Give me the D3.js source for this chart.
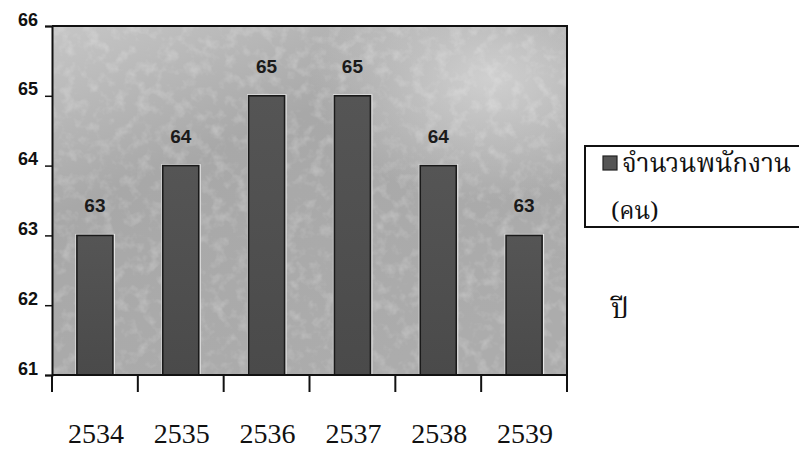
<!DOCTYPE html>
<html>
<head>
<meta charset="utf-8">
<script src="https://cdn.jsdelivr.net/npm/d3@7"></script>
<style>
  html, body { margin: 0; padding: 0; background: #fff; }
  svg { display: block; }
</style>
</head>
<body>
<svg id="chart" width="799" height="469"></svg>
<script>
// Staff headcount per year (Buddhist Era)
const years = ["2534", "2535", "2536", "2537", "2538", "2539"];
const staff = [63, 64, 65, 65, 64, 63];
const yTicks = [61, 62, 63, 64, 65, 66];
const legendLines = ["จำนวนพนักงาน", "(คน)"];
const axisTitle = "ปี";

const svg = d3.select("#chart");
const plot = { left: 52, right: 567, top: 26, bottom: 375 };

const x = d3.scaleBand()
  .domain(years)
  .range([plot.left, plot.right])
  .paddingInner(0.58)
  .paddingOuter(0.29);

const xTick = d3.scaleBand().domain(years).range([plot.left, plot.right]).padding(0);

const y = d3.scaleLinear().domain([61, 66]).range([plot.bottom, plot.top]);

const defs = svg.append("defs");

// plot area background: grey, lighter toward the upper corners
const bg = defs.append("linearGradient").attr("id", "bg")
  .attr("x1", "0").attr("y1", "0").attr("x2", "0.6").attr("y2", "1");
bg.append("stop").attr("offset", "0%").attr("stop-color", "#c6c6c6");
bg.append("stop").attr("offset", "40%").attr("stop-color", "#a8a8a8");
bg.append("stop").attr("offset", "100%").attr("stop-color", "#acacac");

const glow = defs.append("radialGradient").attr("id", "glow")
  .attr("cx", "0.85").attr("cy", "0.15").attr("r", "0.35");
glow.append("stop").attr("offset", "0%").attr("stop-color", "#e0e0e0").attr("stop-opacity", 0.7);
glow.append("stop").attr("offset", "100%").attr("stop-color", "#e0e0e0").attr("stop-opacity", 0);

const barGrad = defs.append("linearGradient").attr("id", "barFill")
  .attr("x1", "0").attr("y1", "0").attr("x2", "0").attr("y2", "1");
barGrad.append("stop").attr("offset", "0%").attr("stop-color", "#555");
barGrad.append("stop").attr("offset", "100%").attr("stop-color", "#4a4a4a");

// mottled print texture
const grain = defs.append("filter").attr("id", "grain")
  .attr("x", 0).attr("y", 0).attr("width", 1).attr("height", 1);
grain.append("feTurbulence").attr("type", "fractalNoise")
  .attr("baseFrequency", "0.08").attr("numOctaves", 3).attr("seed", 7).attr("result", "n");
grain.append("feColorMatrix").attr("in", "n").attr("type", "matrix")
  .attr("values", "0 0 0 0 1  0 0 0 0 1  0 0 0 0 1  1.6 0 0 0 -0.75");

svg.append("rect")
  .attr("x", plot.left).attr("y", plot.top)
  .attr("width", plot.right - plot.left).attr("height", plot.bottom - plot.top)
  .attr("fill", "url(#bg)");
svg.append("rect")
  .attr("x", plot.left).attr("y", plot.top)
  .attr("width", plot.right - plot.left).attr("height", plot.bottom - plot.top)
  .attr("fill", "url(#glow)");
svg.append("rect")
  .attr("x", plot.left).attr("y", plot.top)
  .attr("width", plot.right - plot.left).attr("height", plot.bottom - plot.top)
  .attr("filter", "url(#grain)")
  .attr("opacity", 0.35);

// bars: light halo, then dark bar with dark outline
const bars = svg.append("g");
bars.selectAll("rect.halo")
  .data(years)
  .join("rect")
  .attr("class", "halo")
  .attr("x", (d) => x(d) - 1.5)
  .attr("y", (d, i) => y(staff[i]) - 1.5)
  .attr("width", x.bandwidth() + 3.5)
  .attr("height", (d, i) => plot.bottom - y(staff[i]) + 1.5)
  .attr("fill", "#e6e6e6");

bars.selectAll("rect.bar")
  .data(years)
  .join("rect")
  .attr("class", "bar")
  .attr("x", (d) => x(d))
  .attr("y", (d, i) => y(staff[i]))
  .attr("width", x.bandwidth())
  .attr("height", (d, i) => plot.bottom - y(staff[i]))
  .attr("fill", "url(#barFill)")
  .attr("stroke", "#1a1a1a")
  .attr("stroke-width", 1.6);

// value labels
svg.append("g").selectAll("text")
  .data(years)
  .join("text")
  .attr("x", (d) => x(d) + x.bandwidth() / 2)
  .attr("y", (d, i) => y(staff[i]) - 23)
  .attr("text-anchor", "middle")
  .attr("font-family", "Arial, 'Liberation Sans', sans-serif")
  .attr("font-weight", "bold")
  .attr("font-size", 19)
  .attr("fill", "#1a1a1a")
  .text((d, i) => staff[i]);

// frame: top and right border
svg.append("path")
  .attr("d", `M${plot.left},${plot.top}H${plot.right}V${plot.bottom + 17}`)
  .attr("fill", "none").attr("stroke", "#111").attr("stroke-width", 2);

// y axis
const yAxis = d3.axisLeft(y).tickValues(yTicks).tickSize(7).tickPadding(7).tickFormat(d3.format("d"));
const gy = svg.append("g").attr("transform", `translate(${plot.left},0)`).call(yAxis);
gy.attr("font-size", null).attr("font-family", null);
gy.select(".domain").attr("stroke", "#111").attr("stroke-width", 2);
gy.selectAll(".tick line").attr("stroke", "#111").attr("stroke-width", 1.5);
gy.selectAll(".tick text")
  .attr("dy", "-0.05em")
  .style("font-family", "Arial, 'Liberation Sans', sans-serif")
  .style("font-weight", "bold").style("font-size", "18px").attr("fill", "#111");

// x axis: ticks at band boundaries, labels below
const boundaries = years.map((d) => xTick(d)).concat([plot.right]);
svg.append("line")
  .attr("x1", plot.left).attr("x2", plot.right)
  .attr("y1", plot.bottom).attr("y2", plot.bottom)
  .attr("stroke", "#111").attr("stroke-width", 2);
svg.append("g").selectAll("line")
  .data(boundaries)
  .join("line")
  .attr("x1", (d) => d).attr("x2", (d) => d)
  .attr("y1", plot.bottom).attr("y2", plot.bottom + 17)
  .attr("stroke", "#111").attr("stroke-width", 2);

svg.append("g").selectAll("text")
  .data(years)
  .join("text")
  .attr("x", (d) => xTick(d) + xTick.bandwidth() / 2 + 1)
  .attr("y", 443)
  .attr("text-anchor", "middle")
  .attr("font-family", "'Liberation Serif', 'Times New Roman', serif")
  .attr("font-size", 28)
  .attr("fill", "#111")
  .text((d) => d);

// legend
const legend = svg.append("g");
legend.append("rect")
  .attr("x", 585).attr("y", 146).attr("width", 230).attr("height", 81)
  .attr("fill", "#fff").attr("stroke", "#111").attr("stroke-width", 2);
legend.append("rect")
  .attr("x", 603).attr("y", 156).attr("width", 14).attr("height", 14)
  .attr("fill", "#555").attr("stroke", "#222").attr("stroke-width", 1.2);
const thaiFont = "'Noto Serif Thai', 'Noto Sans Thai', 'Norasi', 'Garuda', 'Loma', 'DejaVu Sans', serif";
legend.append("text")
  .attr("x", 622).attr("y", 172)
  .attr("font-family", thaiFont).attr("font-size", 26).attr("fill", "#111")
  .text(legendLines[0]);
legend.append("text")
  .attr("x", 611).attr("y", 219)
  .attr("font-family", thaiFont).attr("font-size", 24).attr("fill", "#111")
  .text(legendLines[1]);

svg.append("text")
  .attr("x", 611).attr("y", 318)
  .attr("font-family", thaiFont).attr("font-size", 28).attr("fill", "#111")
  .text(axisTitle);
</script>
</body>
</html>
